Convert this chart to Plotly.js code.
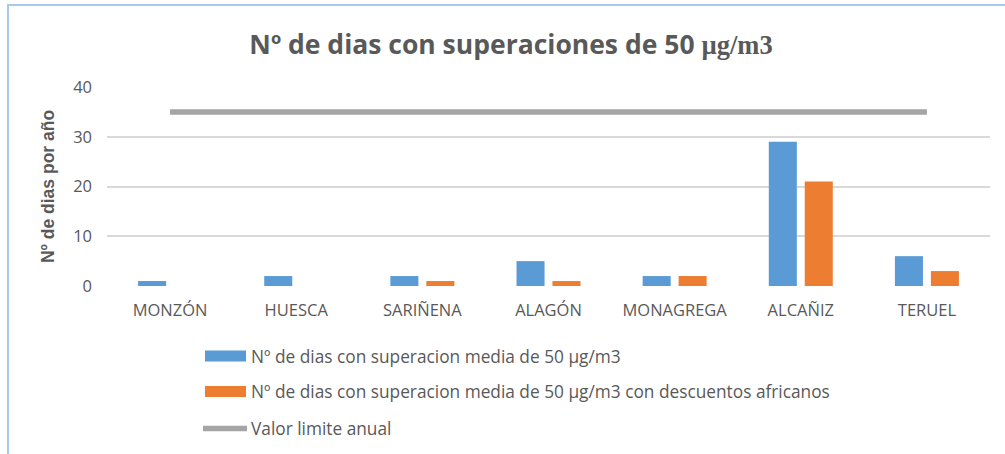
<!DOCTYPE html>
<html>
<head>
<meta charset="utf-8">
<script src="https://cdn.plot.ly/plotly-3.0.1.min.js"></script>
<style>
  html, body { margin: 0; padding: 0; background: #fff; }
  #chart { width: 1005px; height: 454px; }
  #frame { position: absolute; left: 7px; top: 4px; width: 1010px; height: 470px;
           border-top: 2px solid #a9c9ea; border-left: 2px solid #a9c9ea; pointer-events: none; }
</style>
</head>
<body>
<div id="chart"></div>
<div id="frame"></div>
<script>
const categories = ['MONZÓN', 'HUESCA', 'SARIÑENA', 'ALAGÓN', 'MONAGREGA', 'ALCAÑIZ', 'TERUEL'];
const superacionMedia = [1, 2, 2, 5, 2, 29, 6];
const superacionDescuentos = [0, 0, 1, 1, 2, 21, 3];
const valorLimite = [35, 35, 35, 35, 35, 35, 35];
const seriesNames = [
  'Nº de dias con superacion media de 50 µg/m3',
  'Nº de dias con superacion media de 50 µg/m3 con descuentos africanos',
  'Valor limite anual'
];
const seriesColors = ['#5b9bd5', '#ed7d31', '#a5a5a5'];
const yTicks = [0, 10, 20, 30, 40];

const gray = '#595959';
const font = 'Open Sans, Noto Sans, sans-serif';

const traces = [
  { type: 'bar', x: categories, y: superacionMedia, name: seriesNames[0],
    marker: { color: seriesColors[0] }, showlegend: false },
  { type: 'bar', x: categories, y: superacionDescuentos, name: seriesNames[1],
    marker: { color: seriesColors[1] }, showlegend: false },
  { type: 'scatter', mode: 'lines', x: categories, y: valorLimite, name: seriesNames[2],
    line: { color: seriesColors[2], width: 5.5 }, showlegend: false }
];

// plot area geometry (px) used to place the hand-drawn legend in paper coords
const L = 107, R = 990, T = 87, B = 286;
const px = v => (v - L) / (R - L);
const py = v => (B - v) / (B - T);

const legendRows = [356, 391.5, 428];
const shapes = [
  { type: 'rect', xref: 'paper', yref: 'paper', x0: px(205), x1: px(246), y0: py(350.5), y1: py(361.5),
    fillcolor: seriesColors[0], line: { width: 0 } },
  { type: 'rect', xref: 'paper', yref: 'paper', x0: px(205), x1: px(246), y0: py(386), y1: py(397),
    fillcolor: seriesColors[1], line: { width: 0 } },
  { type: 'line', xref: 'paper', yref: 'paper', x0: px(203), x1: px(247), y0: py(428.5), y1: py(428.5),
    line: { color: seriesColors[2], width: 5.5 } }
];
const annotations = seriesNames.map((n, i) => ({
  xref: 'paper', yref: 'paper', x: px(249), y: py(legendRows[i]), xanchor: 'left', yanchor: 'middle',
  text: n, showarrow: false, font: { family: font, size: 17.3, color: gray }
}));

const layout = {
  width: 1005, height: 454,
  margin: { l: L, r: 1005 - R, t: T, b: 454 - B },
  paper_bgcolor: '#ffffff', plot_bgcolor: '#ffffff',
  title: {
    text: '<b>Nº de dias con superaciones de 50 <span style="font-family:Liberation Serif, serif">µg/m3</span></b>',
    x: 511 / 1005, xref: 'container', xanchor: 'center', y: 1 - 45 / 454, yref: 'container', yanchor: 'middle',
    font: { family: font, size: 26.5, color: gray }
  },
  barmode: 'group', bargap: 0.43, bargroupgap: 0.22,
  xaxis: {
    type: 'category', showgrid: false, zeroline: false, showline: false, ticks: '',
    tickfont: { family: font, size: 16.5, color: gray }, ticklabelstandoff: 12
  },
  yaxis: {
    range: [0, 40], tickvals: yTicks, ticktext: yTicks.map(String),
    showgrid: true, gridcolor: '#d9d9d9', gridwidth: 2, zeroline: false, showline: false,
    ticks: '', tickfont: { family: font, size: 16.5, color: gray }, ticklabelstandoff: 14,
    title: { text: '<b>Nº de dias por año</b>', font: { family: 'Liberation Sans, Arial, sans-serif', size: 17.5, color: gray }, standoff: 14 }
  },
  shapes: shapes,
  annotations: annotations,
  hovermode: false
};

Plotly.newPlot('chart', traces, layout, { displayModeBar: false, staticPlot: true });
</script>
</body>
</html>
